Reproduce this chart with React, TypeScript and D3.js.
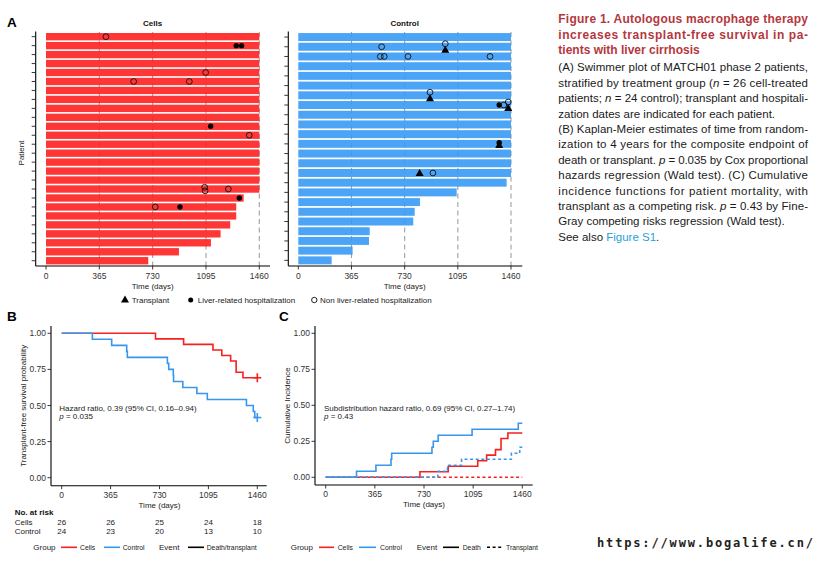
import React from "react";
import * as d3 from "d3";

const FONT = "'Liberation Sans', Arial, Helvetica, sans-serif";
const RED_BAR = "#ff2020";
const BLUE_BAR = "#379af4";
const RED = "#f5201f";
const BLUE = "#3896ee";
const MAXT = 1460;

const xTicks = [0, 365, 730, 1095, 1460];
const yTicks = [0, 0.25, 0.5, 0.75, 1];
const yTickLabels = ["0.00", "0.25", "0.50", "0.75", "1.00"];

// Swimmer plot: follow-up end (days), top to bottom
const cellsFollowUp = [
  1460, 1460, 1460, 1460, 1460, 1460, 1460, 1460, 1460, 1460, 1460, 1460, 1460,
  1460, 1460, 1460, 1460, 1460, 1353, 1302, 1302, 1261, 1195, 1129, 910, 700,
];
const controlFollowUp = [
  1460, 1460, 1460, 1460, 1460, 1460, 1460, 1460, 1460, 1460, 1460, 1460, 1460,
  1460, 1460, 1430, 1087, 835, 799, 789, 490, 485, 373, 229,
];

// events: [patient index (top = 0), type, day]  T = transplant, L = liver-related, N = non liver-related
const cellsEvents: [number, string, number][] = [
  [0, "N", 410], [1, "L", 1302], [1, "L", 1339], [4, "N", 1093], [5, "N", 600],
  [5, "N", 981], [10, "L", 1127], [11, "N", 1391], [17, "N", 1086], [17, "N", 1089],
  [17, "N", 1248], [18, "L", 1323], [19, "N", 748], [19, "L", 917],
];
const controlEvents: [number, string, number][] = [
  [1, "N", 572], [1, "N", 1009], [1, "T", 1009], [2, "N", 563], [2, "N", 590],
  [2, "N", 753], [2, "N", 1316], [6, "N", 904], [6, "T", 904], [7, "L", 1379],
  [7, "N", 1411], [7, "N", 1441], [7, "T", 1441], [11, "L", 1379], [11, "T", 1379],
  [14, "T", 833], [14, "N", 924],
];

const riskGroups = ["Cells", "Control"];
const riskCells = [26, 26, 25, 24, 18];
const riskControl = [24, 23, 20, 13, 10];

const titleLines = [
  "Figure 1. Autologous macrophage therapy",
  "increases transplant-free survival in pa-",
  "tients with liver cirrhosis",
];
const titleJustify = [true, true, false];
const bodyLines: [string, string?][][] = [
  [["(A) Swimmer plot of MATCH01 phase 2 patients,"]],
  [["stratified by treatment group ("], ["n", "i"], [" = 26 cell-treated"]],
  [["patients; "], ["n", "i"], [" = 24 control); transplant and hospitali-"]],
  [["zation dates are indicated for each patient."]],
  [["(B) Kaplan-Meier estimates of time from random-"]],
  [["ization to 4 years for the composite endpoint of"]],
  [["death or transplant. "], ["p", "i"], [" = 0.035 by Cox proportional"]],
  [["hazards regression (Wald test). (C) Cumulative"]],
  [["incidence functions for patient mortality, with"]],
  [["transplant as a competing risk. "], ["p", "i"], [" = 0.43 by Fine-"]],
  [["Gray competing risks regression (Wald test)."]],
  [["See also "], ["Figure S1", "l"], ["."]],
];
const bodyJustify = [true, true, true, false, true, true, true, true, true, true, false, false];

type Subj = { time: number; ev: string | null };

function subjects(followUp: number[], events: [number, string, number][]): Subj[] {
  return followUp.map((f, i) => {
    const tx = events.filter((e) => e[0] === i && e[1] === "T").map((e) => e[2]);
    const txDay = tx.length ? Math.min(...tx) : Infinity;
    const deathDay = f < MAXT ? f : Infinity;
    if (txDay < Infinity && txDay <= deathDay) return { time: txDay, ev: "T" };
    if (deathDay < Infinity) return { time: deathDay, ev: "D" };
    return { time: MAXT, ev: null };
  });
}

function kmCurve(s: Subj[]): [number, number][] {
  const times = Array.from(new Set(s.filter((d) => d.ev).map((d) => d.time))).sort((a, b) => a - b);
  let S = 1;
  const pts: [number, number][] = [[0, 1]];
  times.forEach((t) => {
    const n = s.filter((d) => d.time >= t).length;
    const dd = s.filter((d) => d.time === t && d.ev).length;
    S *= 1 - dd / n;
    pts.push([t, S]);
  });
  pts.push([MAXT, S]);
  return pts;
}

function cifCurve(s: Subj[], type: string): [number, number][] {
  const times = Array.from(new Set(s.filter((d) => d.ev).map((d) => d.time))).sort((a, b) => a - b);
  let S = 1;
  let F = 0;
  const pts: [number, number][] = [[0, 0]];
  times.forEach((t) => {
    const n = s.filter((d) => d.time >= t).length;
    const dAll = s.filter((d) => d.time === t && d.ev).length;
    const dk = s.filter((d) => d.time === t && d.ev === type).length;
    F += (S * dk) / n;
    S *= 1 - dAll / n;
    if (dk > 0) pts.push([t, F]);
  });
  pts.push([MAXT, F]);
  return pts;
}

function dodge(events: [number, string, number][]) {
  const out: { p: number; type: string; day: number; dy: number }[] = [];
  const byP = d3.group(events, (e) => e[0]);
  byP.forEach((evs, p) => {
    const sorted = [...evs].sort((a, b) => a[2] - b[2]);
    const clusters: [number, string, number][][] = [];
    sorted.forEach((e) => {
      const last = clusters[clusters.length - 1];
      if (last && e[2] - last[last.length - 1][2] < 8) last.push(e);
      else clusters.push([e]);
    });
    clusters.forEach((c) => {
      if (c.length === 1) out.push({ p, type: c[0][1], day: c[0][2], dy: 0 });
      else {
        const hasT = c.some((e) => e[1] === "T");
        const hasL = c.some((e) => e[1] === "L");
        const o = hasT ? (hasL ? 1.2 : 3) : 1.8;
        const ord = [...c].sort((a, b) => (a[1] === "T" ? 1 : 0) - (b[1] === "T" ? 1 : 0));
        ord.forEach((e, k) => out.push({ p, type: e[1], day: e[2], dy: k === 0 ? -o : o }));
      }
    });
  });
  return out;
}

const triPath = d3.symbol(d3.symbolTriangle).size(28)() as string;

function Marker({ type, cx, cy, legend }: { type: string; cx: number; cy: number; legend?: boolean }) {
  if (type === "T") return <path d={triPath} transform={`translate(${cx},${cy + 0.6})`} fill="#000" />;
  if (type === "L") return <circle cx={cx} cy={cy} r={legend ? 2.5 : 2.7} fill="#000" />;
  return <circle cx={cx} cy={cy} r={legend ? 2.7 : 2.9} fill="none" stroke="#111" strokeWidth={0.9} />;
}

function Swimmer({
  followUp, events, color, title, x0, x1, axisX, axisEnd,
}: {
  followUp: number[]; events: [number, string, number][]; color: string; title: string;
  x0: number; x1: number; axisX: number; axisEnd: number;
}) {
  const x = d3.scaleLinear().domain([0, MAXT]).range([x0, x1]);
  const y = d3
    .scaleBand<number>()
    .domain(d3.range(followUp.length))
    .range([32.2, 265.2])
    .paddingInner(0.18)
    .paddingOuter(0.09);
  const bw = y.bandwidth();
  const evs = dodge(events);
  return (
    <g>
      <text x={(x0 + x1) / 2} y={26} textAnchor="middle" fontSize={8} fontWeight="bold" fill="#111">
        {title}
      </text>
      {xTicks.slice(1).map((t) => (
        <line key={t} x1={x(t)} x2={x(t)} y1={32} y2={266} stroke="#a0a0a0" strokeWidth={1.1} strokeDasharray="5,3.5" />
      ))}
      {followUp.map((f, i) => (
        <rect key={i} x={x(0)} y={y(i)} width={x(f) - x(0)} height={bw} fill={color} fillOpacity={0.9} />
      ))}
      {evs.map((e, k) => (
        <Marker key={k} type={e.type} cx={x(e.day)} cy={(y(e.p) as number) + bw / 2 + e.dy} />
      ))}
      <line x1={axisX} x2={axisX} y1={31.5} y2={266} stroke="#000" strokeWidth={1.1} />
      <line x1={axisX} x2={axisEnd} y1={266} y2={266} stroke="#000" strokeWidth={1.1} />
      {followUp.map((_, i) => (
        <line key={i} x1={axisX - 4} x2={axisX} y1={(y(i) as number) + bw / 2} y2={(y(i) as number) + bw / 2} stroke="#222" strokeWidth={0.9} />
      ))}
      {xTicks.map((t) => (
        <g key={t}>
          <line x1={x(t)} x2={x(t)} y1={266} y2={269.5} stroke="#222" strokeWidth={0.9} />
          <text x={x(t)} y={278.5} textAnchor="middle" fontSize={8.5} fill="#333">
            {t}
          </text>
        </g>
      ))}
      <text x={(x0 + x1) / 2} y={288.5} textAnchor="middle" fontSize={8} fill="#222">
        Time (days)
      </text>
    </g>
  );
}

function Axes({
  x, y, axisX, axisY, axisTop, axisEnd, yTitle, titleX,
}: {
  x: d3.ScaleLinear<number, number>; y: d3.ScaleLinear<number, number>; axisX: number; axisY: number;
  axisTop: number; axisEnd: number; yTitle: string; titleX: number;
}) {
  return (
    <g>
      <line x1={axisX} x2={axisX} y1={axisTop} y2={axisY} stroke="#000" strokeWidth={1.1} />
      <line x1={axisX} x2={axisEnd} y1={axisY} y2={axisY} stroke="#000" strokeWidth={1.1} />
      {yTicks.map((t, i) => (
        <g key={t}>
          <line x1={axisX - 3.5} x2={axisX} y1={y(t)} y2={y(t)} stroke="#222" strokeWidth={0.9} />
          <text x={axisX - 5} y={y(t) + 3} textAnchor="end" fontSize={8.5} fill="#333">
            {yTickLabels[i]}
          </text>
        </g>
      ))}
      {xTicks.map((t) => (
        <g key={t}>
          <line x1={x(t)} x2={x(t)} y1={axisY} y2={axisY + 3.5} stroke="#222" strokeWidth={0.9} />
          <text x={x(t)} y={axisY + 11.8} textAnchor="middle" fontSize={8.5} fill="#333">
            {t}
          </text>
        </g>
      ))}
      <text x={(x(0) + x(MAXT)) / 2} y={axisY + 21.8} textAnchor="middle" fontSize={8} fill="#222">
        Time (days)
      </text>
      <text
        transform={`translate(${titleX},${(axisTop + axisY) / 2}) rotate(-90)`}
        textAnchor="middle"
        fontSize={8}
        fill="#222"
        dy={3}
      >
        {yTitle}
      </text>
    </g>
  );
}

export default function App() {
  const cellsS = subjects(cellsFollowUp, cellsEvents);
  const controlS = subjects(controlFollowUp, controlEvents);

  // Panel B
  const xB = d3.scaleLinear().domain([0, MAXT]).range([61.7, 257.3]);
  const yB = d3.scaleLinear().domain([0, 1]).range([477.7, 333.3]);
  const lineB = d3
    .line<[number, number]>()
    .x((d) => xB(d[0]))
    .y((d) => yB(d[1]))
    .curve(d3.curveStepAfter);
  const kmCells = kmCurve(cellsS);
  const kmControl = kmCurve(controlS);

  // Panel C
  const xC = d3.scaleLinear().domain([0, MAXT]).range([325.7, 522.3]);
  const yC = d3.scaleLinear().domain([0, 1]).range([477.3, 333.3]);
  const lineC = d3
    .line<[number, number]>()
    .x((d) => xC(d[0]))
    .y((d) => yC(d[1]))
    .curve(d3.curveStepAfter);

  const cifSeries = [
    { pts: cifCurve(cellsS, "D"), color: RED, dash: undefined },
    { pts: cifCurve(cellsS, "T"), color: RED, dash: "3,2.6" },
    { pts: cifCurve(controlS, "D"), color: BLUE, dash: undefined },
    { pts: cifCurve(controlS, "T"), color: BLUE, dash: "3,2.6" },
  ];

  const cross = (cx: number, cy: number, color: string) => (
    <g stroke={color} strokeWidth={1.6}>
      <line x1={cx - 4} x2={cx + 4} y1={cy} y2={cy} />
      <line x1={cx} x2={cx} y1={cy - 4.5} y2={cy + 4.5} />
    </g>
  );

  const lastCells = kmCells[kmCells.length - 1];
  const lastControl = kmControl[kmControl.length - 1];

  return (
    <svg
      width={826}
      height={572}
      style={{ position: "absolute", left: 0, top: 0, background: "#fff" }}
      fontFamily={FONT}
    >
      <rect width={826} height={572} fill="#fff" />

      {/* Panel labels */}
      <text x={7} y={27} fontSize={13.5} fontWeight="bold" fill="#000">A</text>
      <text x={7} y={320.5} fontSize={13.5} fontWeight="bold" fill="#000">B</text>
      <text x={279} y={320.5} fontSize={13.5} fontWeight="bold" fill="#000">C</text>

      {/* Panel A */}
      <text transform="translate(20.7,153) rotate(-90)" textAnchor="middle" fontSize={8} fill="#222" dy={3}>
        Patient
      </text>
      <Swimmer
        followUp={cellsFollowUp}
        events={cellsEvents}
        color={RED_BAR}
        title="Cells"
        x0={46}
        x1={259.3}
        axisX={35.7}
        axisEnd={270}
      />
      <Swimmer
        followUp={controlFollowUp}
        events={controlEvents}
        color={BLUE_BAR}
        title="Control"
        x0={298.3}
        x1={511}
        axisX={288.3}
        axisEnd={522.3}
      />
      {/* Panel A legend */}
      <g fontSize={8} fill="#222">
        <Marker type="T" cx={125} cy={299.5} legend />
        <text x={131.7} y={302.5}>Transplant</text>
        <Marker type="L" cx={190.7} cy={300} legend />
        <text x={197.7} y={302.5}>Liver-related hospitalization</text>
        <Marker type="N" cx={314.3} cy={300} legend />
        <text x={320} y={302.5}>Non liver-related hospitalization</text>
      </g>

      {/* Panel B */}
      <Axes
        x={xB}
        y={yB}
        axisX={51}
        axisY={485.7}
        axisTop={326}
        axisEnd={266.7}
        yTitle="Transplant-free survival probability"
        titleX={23.3}
      />
      <path d={lineB(kmCells) as string} fill="none" stroke={RED} strokeWidth={1.6} />
      <path d={lineB(kmControl) as string} fill="none" stroke={BLUE} strokeWidth={1.6} />
      {cross(xB(lastCells[0]), yB(lastCells[1]), RED)}
      {cross(xB(lastControl[0]), yB(lastControl[1]), BLUE)}
      <text x={59.3} y={410.5} fontSize={8} fill="#222">
        Hazard ratio, 0.39 (95% CI, 0.16–0.94)
      </text>
      <text x={59.3} y={419} fontSize={8} fill="#222">
        <tspan fontStyle="italic">p</tspan> = 0.035
      </text>

      {/* Risk table */}
      <text x={14.7} y={515} fontSize={8} fontWeight="bold" fill="#111">No. at risk</text>
      {[riskCells, riskControl].map((row, r) => (
        <g key={r} fontSize={8} fill="#222">
          <text x={14.7} y={524.5 + r * 9.4}>{riskGroups[r]}</text>
          {row.map((v, i) => (
            <text key={i} x={xB(xTicks[i])} y={524.5 + r * 9.4} textAnchor="middle">
              {v}
            </text>
          ))}
        </g>
      ))}

      {/* Legend B */}
      <g fill="#222">
        <text x={33.3} y={550} fontSize={8}>Group</text>
        <line x1={61} x2={77} y1={547.3} y2={547.3} stroke={RED} strokeWidth={1.6} />
        <text x={80} y={549.8} fontSize={6.8}>Cells</text>
        <line x1={104} x2={120} y1={547.3} y2={547.3} stroke={BLUE} strokeWidth={1.6} />
        <text x={122.7} y={549.8} fontSize={6.8}>Control</text>
        <text x={159} y={550} fontSize={8}>Event</text>
        <line x1={188} x2={204} y1={547.3} y2={547.3} stroke="#000" strokeWidth={1.6} />
        <text x={206.7} y={549.8} fontSize={6.8}>Death/transplant</text>
      </g>

      {/* Panel C */}
      <Axes
        x={xC}
        y={yC}
        axisX={315}
        axisY={485}
        axisTop={326}
        axisEnd={532.7}
        yTitle="Cumulative Incidence"
        titleX={286.7}
      />
      {cifSeries.map((s, i) => (
        <path
          key={i}
          d={lineC(s.pts) as string}
          fill="none"
          stroke={s.color}
          strokeWidth={1.6}
          strokeDasharray={s.dash}
        />
      ))}
      <text x={324} y={410.5} fontSize={8} fill="#222">
        Subdistribution hazard ratio, 0.69 (95% CI, 0.27–1.74)
      </text>
      <text x={324} y={419} fontSize={8} fill="#222">
        <tspan fontStyle="italic">p</tspan> = 0.43
      </text>

      {/* Legend C */}
      <g fill="#222">
        <text x={290.7} y={550} fontSize={8}>Group</text>
        <line x1={319} x2={334} y1={547.3} y2={547.3} stroke={RED} strokeWidth={1.6} />
        <text x={337.7} y={549.8} fontSize={6.8}>Cells</text>
        <line x1={359} x2={376} y1={547.3} y2={547.3} stroke={BLUE} strokeWidth={1.6} />
        <text x={380} y={549.8} fontSize={6.8}>Control</text>
        <text x={416.7} y={550} fontSize={8}>Event</text>
        <line x1={443} x2={459} y1={547.3} y2={547.3} stroke="#000" strokeWidth={1.6} />
        <text x={462.7} y={549.8} fontSize={6.8}>Death</text>
        <line x1={487} x2={503} y1={547.3} y2={547.3} stroke="#000" strokeWidth={1.6} strokeDasharray="3,2.6" />
        <text x={506} y={549.8} fontSize={6.8}>Transplant</text>
      </g>

      {/* Caption */}
      {titleLines.map((t, i) => (
        <text
          key={i}
          x={558.3}
          y={23.3 + i * 15.3}
          fontSize={12}
          fontWeight="bold"
          fill="#b5373d"
          textLength={titleJustify[i] ? 249.7 : undefined}
          lengthAdjust={titleJustify[i] ? "spacing" : undefined}
        >
          {t}
        </text>
      ))}
      {bodyLines.map((segs, i) => (
        <text
          key={i}
          x={558.3}
          y={71.3 + i * 15.4}
          fontSize={11.5}
          fill="#1a1a1a"
          textLength={bodyJustify[i] ? 249.7 : undefined}
          lengthAdjust={bodyJustify[i] ? "spacing" : undefined}
        >
          {segs.map((s, k) => (
            <tspan
              key={k}
              fontStyle={s[1] === "i" ? "italic" : undefined}
              fill={s[1] === "l" ? "#2b9fd8" : undefined}
            >
              {s[0]}
            </tspan>
          ))}
        </text>
      ))}

      {/* Watermark */}
      <text
        x={597}
        y={546.7}
        fontFamily="'DejaVu Sans Mono', monospace"
        fontSize={12}
        fontWeight="bold"
        letterSpacing={1.85}
        fill="#222"
      >
        https://www.bogalife.cn/
      </text>
    </svg>
  );
}
